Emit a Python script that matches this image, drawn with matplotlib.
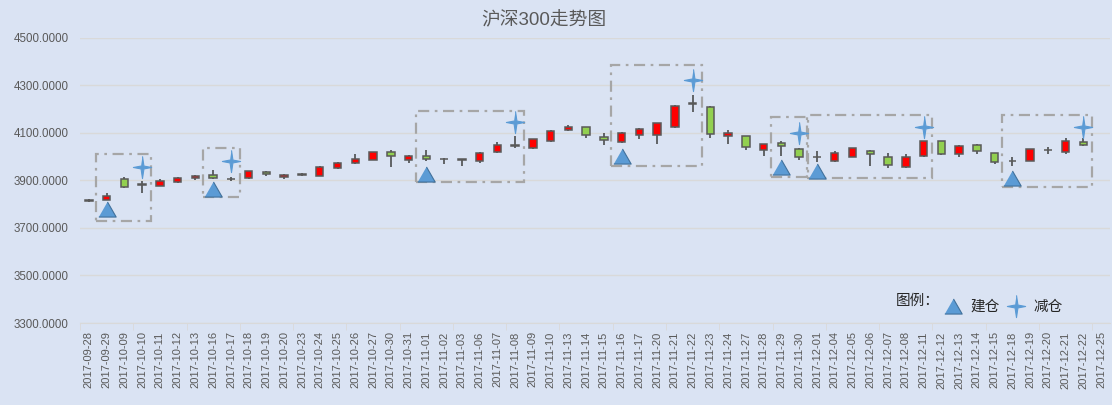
import numpy as np
import matplotlib
matplotlib.use('Agg')
from matplotlib import pyplot as plt
from matplotlib.lines import Line2D
from matplotlib.patches import Rectangle

plt.rcParams['font.family'] = ['Liberation Sans', 'Noto Sans CJK SC', 'DejaVu Sans']

dates = ['2017-09-28', '2017-09-29', '2017-10-09', '2017-10-10', '2017-10-11', '2017-10-12',
         '2017-10-13', '2017-10-16', '2017-10-17', '2017-10-18', '2017-10-19', '2017-10-20',
         '2017-10-23', '2017-10-24', '2017-10-25', '2017-10-26', '2017-10-27', '2017-10-30',
         '2017-10-31', '2017-11-01', '2017-11-02', '2017-11-03', '2017-11-06', '2017-11-07',
         '2017-11-08', '2017-11-09', '2017-11-10', '2017-11-13', '2017-11-14', '2017-11-15',
         '2017-11-16', '2017-11-17', '2017-11-20', '2017-11-21', '2017-11-22', '2017-11-23',
         '2017-11-24', '2017-11-27', '2017-11-28', '2017-11-29', '2017-11-30', '2017-12-01',
         '2017-12-04', '2017-12-05', '2017-12-06', '2017-12-07', '2017-12-08', '2017-12-11',
         '2017-12-12', '2017-12-13', '2017-12-14', '2017-12-15', '2017-12-18', '2017-12-19',
         '2017-12-20', '2017-12-21', '2017-12-22', '2017-12-25']

open_ = [3817, 3818, 3905, 3885, 3878, 3895, 3909, 3922, 3907, 3910, 3935, 3913,
         3926, 3920, 3951, 3975, 3988, 4020, 3988, 4003, 3992, 3989, 3984, 4019,
         4048, 4038, 4065, 4111, 4125, 4083, 4060, 4090, 4090, 4125, 4225, 4208,
         4086, 4086, 4030, 4057, 4033, 3999, 3983, 4000, 4023, 3998, 3958, 4002,
         4065, 4010, 4048, 4015, 3982, 3981, 4030, 4019, 4061, np.nan]
high = [3820, 3846, 3913, 3899, 3908, 3914, 3924, 3944, 3916, 3941, 3940, 3929,
        3931, 3959, 3977, 4012, 4022, 4028, 4009, 4028, 3993, 3992, 4019, 4061,
        4088, 4076, 4112, 4134, 4127, 4099, 4104, 4122, 4143, 4217, 4258, 4214,
        4114, 4088, 4055, 4066, 4035, 4024, 4024, 4038, 4028, 4015, 4010, 4068,
        4066, 4051, 4054, 4016, 3999, 4032, 4041, 4078, 4078, np.nan]
low = [3809, 3817, 3870, 3849, 3877, 3891, 3904, 3907, 3897, 3908, 3921, 3905,
       3921, 3917, 3947, 3968, 3985, 3956, 3975, 3983, 3968, 3960, 3974, 4015,
       4036, 4034, 4062, 4108, 4080, 4051, 4056, 4076, 4055, 4121, 4187, 4080,
       4052, 4030, 4004, 4002, 3985, 3977, 3976, 3997, 3960, 3951, 3953, 4000,
       4009, 4000, 4010, 3968, 3962, 3980, 4010, 4010, 4044, np.nan]
close = [3815, 3833, 3874, 3883, 3897, 3909, 3918, 3909, 3906, 3939, 3926, 3925,
         3925, 3956, 3974, 3991, 4019, 4005, 4002, 3992, 3991, 3988, 4015, 4048,
         4047, 4073, 4107, 4125, 4093, 4069, 4099, 4117, 4141, 4212, 4224, 4097,
         4100, 4042, 4052, 4047, 4000, 3998, 4015, 4036, 4010, 3967, 3998, 4065,
         4010, 4044, 4023, 3977, 3981, 4031, 4029, 4065, 4048, np.nan]

# 建仓 / 减仓 signals
buy_dates = ['2017-09-29', '2017-10-16', '2017-11-01', '2017-11-16', '2017-11-29', '2017-12-01', '2017-12-18']
buy_values = [3778, 3864, 3928, 4003, 3957, 3940, 3911]
sell_dates = ['2017-10-10', '2017-10-17', '2017-11-08', '2017-11-22', '2017-11-30', '2017-12-11', '2017-12-22']
sell_values = [3958, 3982, 4145, 4323, 4099, 4127, 4124]
box_low = [3731, 3831, 3894, 3961, 3916, 3911, 3873]
box_high = [4010, 4038, 4194, 4388, 4169, 4175, 4175]

bg = '#DAE3F3'
txt = '#595959'
marker_blue = '#5B9BD5'

fig = plt.figure(figsize=(11.12, 4.05), dpi=100, facecolor=bg)
ax = fig.add_axes([80 / 1112, 82 / 405, 1030 / 1112, 285 / 405], facecolor=bg)

x = np.arange(len(dates))
o = np.array(open_); c = np.array(close); h = np.array(high); l = np.array(low)
up = c > o
colors = np.where(up, '#FF0000', '#92D050')

ax.vlines(x, l, h, color='#404040', lw=1.1, zorder=2)
ax.bar(x, np.abs(c - o), bottom=np.fmin(o, c), width=0.42, color=colors,
       edgecolor='#595959', linewidth=1.1, zorder=3)

# position boxes
idx = {d: i for i, d in enumerate(dates)}
for bd, sd, lo, hi in zip(buy_dates, sell_dates, box_low, box_high):
    x0 = idx[bd] - 0.58
    x1 = idx[sd] + 0.5
    ax.add_patch(Rectangle((x0, lo), x1 - x0, hi - lo, fill=False, edgecolor='#A6A6A6',
                           lw=1.6, linestyle=(0, (5, 2.5, 1.2, 2.5)), zorder=4))

tri = [(-1, -0.87), (1, -0.87), (0, 0.87)]
star = [(0, 1), (0.13, 0.13), (0.82, 0), (0.13, -0.13), (0, -1), (-0.13, -0.13), (-0.82, 0), (-0.13, 0.13)]

ax.plot([idx[d] for d in buy_dates], buy_values, linestyle='none', marker=tri, ms=12.5,
        mfc=marker_blue, mec='#41719C', mew=0.8, zorder=5)
ax.plot([idx[d] for d in sell_dates], sell_values, linestyle='none', marker=star, ms=16,
        mfc=marker_blue, mec=marker_blue, mew=0.8, zorder=5)

ax.set_xlim(-0.5, len(dates) - 0.5)
ax.set_ylim(3300, 4500)
ax.set_yticks(np.arange(3300, 4501, 200))
ax.set_yticklabels(['%.4f' % v for v in np.arange(3300, 4501, 200)])
ax.set_xticks(x)
ax.set_xticklabels(dates, rotation=90)
ax.set_xticks(np.arange(-0.5, len(dates), 3), minor=True)
ax.tick_params(axis='x', which='major', length=0, labelsize=8, labelcolor=txt, pad=6)
ax.tick_params(axis='x', which='minor', length=5, color='#D9D9D9')
ax.tick_params(axis='y', length=0, labelsize=8.3, labelcolor=txt, pad=8)
ax.grid(axis='y', color='#D9D9D9', lw=1)
ax.set_axisbelow(True)
for s in ['top', 'right', 'left']:
    ax.spines[s].set_visible(False)
ax.spines['bottom'].set_color('#D9D9D9')

fig.text(544 / 1112, 1 - 20 / 405, '沪深300走势图', ha='center', va='center', fontsize=13.5, color=txt)

handles = [Line2D([], [], linestyle='none', marker=tri, ms=12.5, mfc=marker_blue, mec='#41719C', mew=0.8),
           Line2D([], [], linestyle='none', marker=star, ms=16, mfc=marker_blue, mec=marker_blue, mew=0.8)]
fig.text(896 / 1112, 1 - 301 / 405, '图例：', ha='left', va='center', fontsize=10.5, color='#262626')
fig.legend(handles, ['建仓', '减仓'], loc='center left', bbox_to_anchor=(928 / 1112, 1 - 307 / 405),
           ncol=2, frameon=False, fontsize=10.5, handletextpad=0.4, columnspacing=0.3,
           handlelength=1.6, labelcolor='#262626')

fig.savefig('out.png', dpi=100, facecolor=bg)
